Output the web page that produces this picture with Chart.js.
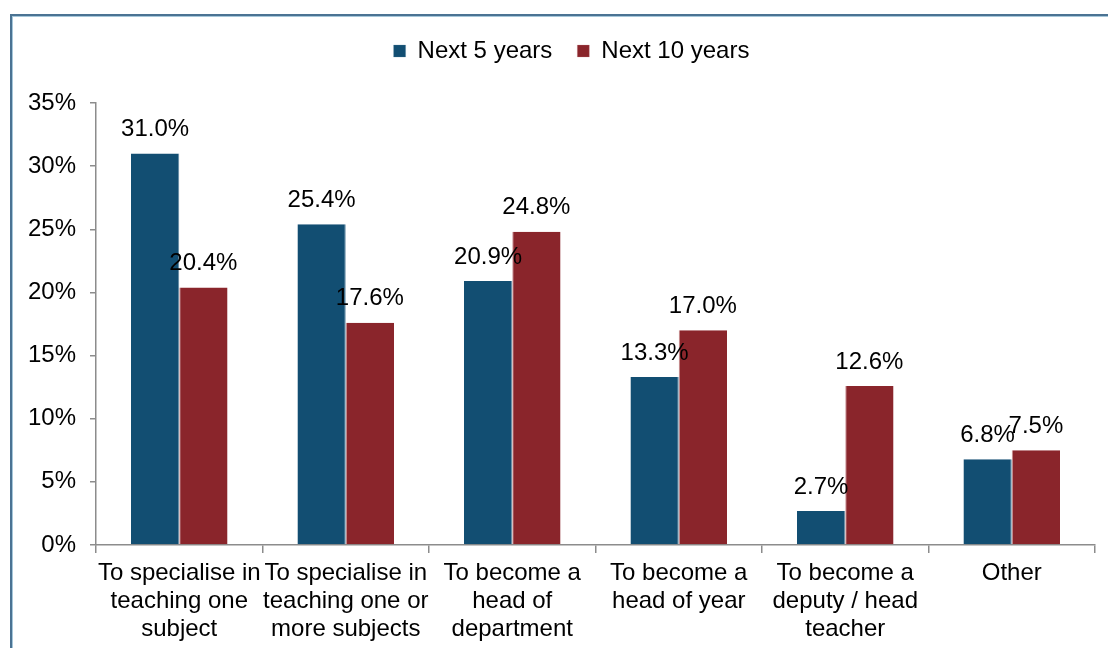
<!DOCTYPE html>
<html>
<head>
<meta charset="utf-8">
<script src="https://cdn.jsdelivr.net/npm/chart.js@4"></script>
<style>
  html, body { margin: 0; padding: 0; background: #fff; }
  #wrap { position: relative; width: 1108px; height: 648px; overflow: hidden; }
  #frame {
    position: absolute; left: 10px; top: 14px; right: -10px; bottom: -10px;
    border-top: 2px solid #4b7393; border-left: 2px solid #4b7393;
    box-shadow: inset 1px 1px 0 #a6c7da;
  }
  #myChart { position: absolute; left: 0; top: 0; }
</style>
</head>
<body>
<div id="wrap">
  <div id="frame"></div>
  <canvas id="myChart" width="1108" height="648"></canvas>
</div>
<script>
const categories = [
  ["To specialise in", "teaching one", "subject"],
  ["To specialise in", "teaching one or", "more subjects"],
  ["To become a", "head of", "department"],
  ["To become a", "head of year"],
  ["To become a", "deputy / head", "teacher"],
  ["Other"]
];
const next5 = [31.0, 25.4, 20.9, 13.3, 2.7, 6.8];
const next10 = [20.4, 17.6, 24.8, 17.0, 12.6, 7.5];
const yTicks = [0, 5, 10, 15, 20, 25, 30, 35];

const fontFamily = "'Liberation Sans', Arial, sans-serif";
const fontSize = 24;

// value labels above each bar
const valueLabels = {
  id: "valueLabels",
  afterDatasetsDraw(chart) {
    const ctx = chart.ctx;
    ctx.save();
    ctx.font = fontSize + "px " + fontFamily;
    ctx.fillStyle = "#000";
    ctx.textAlign = "center";
    ctx.textBaseline = "middle";
    chart.data.datasets.forEach((ds, i) => {
      chart.getDatasetMeta(i).data.forEach((bar, j) => {
        ctx.fillText(ds.data[j].toFixed(1) + "%", bar.x, bar.y - 24);
      });
    });
    ctx.restore();
  }
};

const config = {
  type: "bar",
  data: {
    labels: categories,
    datasets: [
      {
        label: "Next 5 years",
        data: next5,
        backgroundColor: "#124e72",
        borderColor: "#5f88a3",
        borderWidth: { right: 1 }
      },
      {
        label: "Next 10 years",
        data: next10,
        backgroundColor: "#8a252b",
        borderColor: "#c98f92",
        borderWidth: { left: 1 }
      }
    ]
  },
  options: {
    responsive: false,
    animation: false,
    // negative right padding pushes the centred legend to the right,
    // the hidden right axis gives the plot its right edge back
    layout: { padding: { top: 14, left: 0, right: -35, bottom: 0 } },
    datasets: {
      bar: { categoryPercentage: 0.58, barPercentage: 1.0 }
    },
    plugins: {
      legend: {
        position: "top",
        labels: {
          boxWidth: 12,
          boxHeight: 12,
          padding: 25,
          color: "#000",
          font: { family: fontFamily, size: fontSize }
        }
      },
      // empty title used as spacer between legend and plot
      title: {
        display: true,
        text: "",
        position: "top",
        weight: 500,
        font: { size: 1, lineHeight: 1 },
        padding: { top: 29, bottom: 0 }
      },
      tooltip: { enabled: false }
    },
    scales: {
      x: {
        grid: {
          display: true,
          drawOnChartArea: false,
          tickLength: 8,
          color: "#8c8c8c",
          lineWidth: 1.5
        },
        border: { color: "#8c8c8c", width: 1.5 },
        ticks: {
          color: "#000",
          padding: 7,
          maxRotation: 0,
          minRotation: 0,
          autoSkip: false,
          font: { family: fontFamily, size: fontSize, lineHeight: 1.15 }
        },
        afterFit(scale) { scale.height = 103; }
      },
      y: {
        min: 0,
        max: 35,
        afterBuildTicks(scale) {
          scale.ticks = yTicks.map(v => ({ value: v }));
        },
        grid: {
          display: true,
          drawOnChartArea: false,
          tickLength: 6,
          color: "#8c8c8c",
          lineWidth: 1.5
        },
        border: { color: "#8c8c8c", width: 1.5 },
        ticks: {
          color: "#000",
          padding: 14,
          callback: v => v + "%",
          font: { family: fontFamily, size: fontSize }
        },
        afterFit(scale) { scale.width = 96; }
      },
      yRight: {
        position: "right",
        display: true,
        min: 0,
        max: 35,
        grid: { display: false },
        border: { display: false },
        ticks: { display: false },
        afterFit(scale) { scale.width = 48; }
      }
    }
  },
  plugins: [valueLabels]
};

const myChart = new Chart(document.getElementById("myChart").getContext("2d"), config);
</script>
</body>
</html>
